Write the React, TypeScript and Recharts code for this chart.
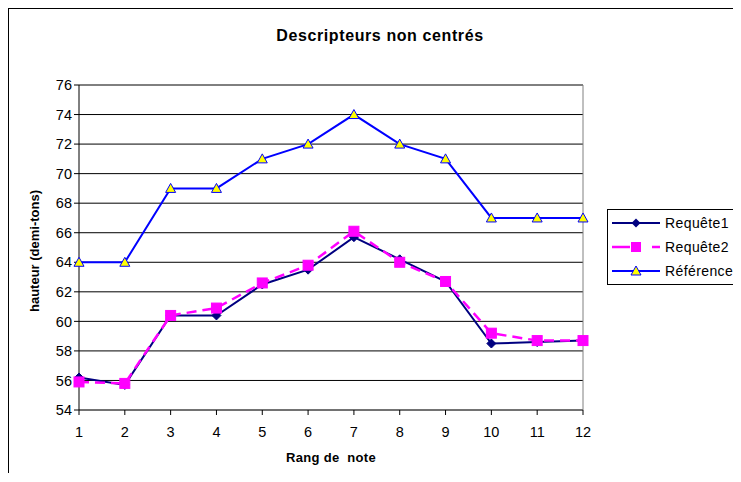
import { LineChart, Line, XAxis, YAxis, CartesianGrid, ReferenceLine } from 'recharts'

const rangs = [1, 2, 3, 4, 5, 6, 7, 8, 9, 10, 11, 12]
const requete1 = [56.2, 55.7, 60.4, 60.4, 62.5, 63.5, 65.7, 64.2, 62.7, 58.5, 58.6, 58.7]
const requete2 = [55.9, 55.8, 60.4, 60.9, 62.6, 63.8, 66.1, 64.0, 62.7, 59.2, 58.7, 58.7]
const reference = [64, 64, 69, 69, 71, 72, 74, 72, 71, 67, 67, 67]
const yTicks = [54, 56, 58, 60, 62, 64, 66, 68, 70, 72, 74, 76]

const data = rangs.map((r, i) => ({
  rang: r,
  requete1: requete1[i],
  requete2: requete2[i],
  reference: reference[i]
}))

const FONT = 'Arial, "Liberation Sans", sans-serif'

const Diamond = (props: any) => {
  const { cx, cy, index } = props
  if (cx == null || cy == null) return <g key={index} />
  return <path key={index} d={`M${cx},${cy - 4.5} L${cx + 4.5},${cy} L${cx},${cy + 4.5} L${cx - 4.5},${cy} Z`} fill="#000080" stroke="#000080" />
}

const Square = (props: any) => {
  const { cx, cy, index } = props
  if (cx == null || cy == null) return <g key={index} />
  return <rect key={index} x={cx - 5} y={cy - 5} width={10} height={10} fill="#ff00ff" stroke="#ff00ff" />
}

const Triangle = (props: any) => {
  const { cx, cy, index } = props
  if (cx == null || cy == null) return <g key={index} />
  return <path key={index} d={`M${cx},${cy - 5} L${cx + 5},${cy + 4} L${cx - 5},${cy + 4} Z`} fill="#ffff00" stroke="#0000ff" strokeWidth={1} />
}

const legendItems = [
  { name: 'Requête1', color: '#000080', marker: 'diamond' },
  { name: 'Requête2', color: '#ff00ff', marker: 'square' },
  { name: 'Référence', color: '#0000ff', marker: 'triangle' }
]

function ChartLegend() {
  return (
    <div style={{ position: 'absolute', left: 598, top: 200, width: 150, height: 76, border: '1px solid #000', background: '#fff', boxSizing: 'border-box', fontSize: 14, letterSpacing: 0.4 }}>
      {legendItems.map((it, i) => (
        <div key={it.name} style={{ display: 'flex', alignItems: 'center', height: 24, marginTop: i === 0 ? 1 : 0 }}>
          <svg width={54} height={14} style={{ marginLeft: 2, flexShrink: 0 }}>
            {it.marker === 'square' ? (
              <>
                <line x1={2} y1={7} x2={20} y2={7} stroke={it.color} strokeWidth={2.5} />
                <line x1={42} y1={7} x2={50} y2={7} stroke={it.color} strokeWidth={2.5} />
                <rect x={21} y={2} width={10} height={10} fill="#ff00ff" />
              </>
            ) : (
              <line x1={2} y1={7} x2={50} y2={7} stroke={it.color} strokeWidth={2} />
            )}
            {it.marker === 'diamond' && <path d="M26,2.5 L30.5,7 L26,11.5 L21.5,7 Z" fill="#000080" />}
            {it.marker === 'triangle' && <path d="M26,2 L31,11 L21,11 Z" fill="#ffff00" stroke="#0000ff" />}
          </svg>
          <span style={{ marginLeft: 1, color: '#000', whiteSpace: 'nowrap' }}>{it.name}</span>
        </div>
      ))}
    </div>
  )
}

export default function App() {
  return (
    <div style={{ position: 'relative', width: 733, height: 474, marginBottom: -10, borderLeft: '1px solid #000', borderTop: '1px solid #000', background: '#fff', fontFamily: FONT, overflow: 'hidden' }}>
      <div style={{ position: 'absolute', left: 221, top: 17, width: 300, lineHeight: '20px', textAlign: 'center', fontWeight: 'bold', fontSize: 16, letterSpacing: 0.6, whiteSpace: 'nowrap' }}>
        Descripteurs non centrés
      </div>
      <LineChart width={732} height={473} data={data} margin={{ top: 76, right: 158, left: 30, bottom: 42 }}>
        <CartesianGrid vertical={false} stroke="#000" strokeWidth={1} />
        <XAxis
          dataKey="rang"
          type="number"
          domain={[1, 12]}
          ticks={rangs}
          interval={0}
          height={30}
          stroke="#666"
          tickLine={{ stroke: '#000' }}
          tickSize={5}
          tickMargin={12}
          tick={{ fill: '#000', fontSize: 14.5, fontFamily: FONT }}
        />
        <YAxis
          type="number"
          domain={[54, 76]}
          ticks={yTicks}
          interval={0}
          width={40}
          stroke="#000"
          tickSize={5}
          tick={{ fill: '#000', fontSize: 14.5, fontFamily: FONT }}
        />
        <ReferenceLine x={12} stroke="#808080" />
        <ReferenceLine y={76} stroke="#808080" />
        <Line dataKey="requete1" name="Requête1" stroke="#000080" strokeWidth={2} dot={Diamond} isAnimationActive={false} />
        <Line dataKey="requete2" name="Requête2" stroke="#ff00ff" strokeWidth={2.5} strokeDasharray="10 6" dot={Square} isAnimationActive={false} />
        <Line dataKey="reference" name="Référence" stroke="#0000ff" strokeWidth={2} dot={Triangle} isAnimationActive={false} />
      </LineChart>
      <ChartLegend />
      <div style={{ position: 'absolute', left: 222, top: 441, width: 200, lineHeight: '16px', textAlign: 'center', fontWeight: 'bold', fontSize: 13, letterSpacing: 0.3, whiteSpace: 'pre' }}>
        Rang de  note
      </div>
      <div style={{ position: 'absolute', left: -74, top: 234, width: 200, lineHeight: '16px', textAlign: 'center', fontWeight: 'bold', fontSize: 13, transform: 'rotate(-90deg)', whiteSpace: 'nowrap' }}>
        hauteur (demi-tons)
      </div>
    </div>
  )
}
